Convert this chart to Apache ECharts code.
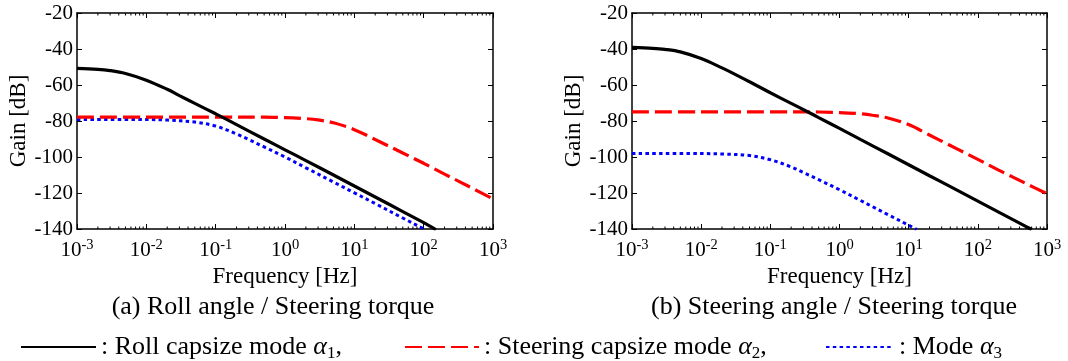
<!DOCTYPE html>
<html>
<head>
<meta charset="utf-8">
<script src="https://cdn.jsdelivr.net/npm/echarts@6/dist/echarts.min.js"></script>
<style>
html, body {margin: 0; padding: 0; background: #fff;}
#chart {width: 1068px; height: 361px;}
</style>
</head>
<body>
<div id="chart"></div>
<script>
// (a) Roll angle / Steering torque  [frequency Hz, gain dB]
const rollMode1 = [[0.001, -50.8], [0.002, -51.3], [0.003, -52.0], [0.005, -53.6], [0.01, -57.3], [0.02, -62.4],
  [0.03, -65.9], [0.05, -70.2], [0.1, -76.0], [0.2, -82.0], [0.5, -90.0], [1, -96.0], [2, -102.0], [5, -110.0],
  [10, -116.1], [20, -122.2], [50, -130.3], [100, -136.5], [150, -140.3]];
const rollMode2 = [[0.001, -77.8], [0.01, -77.8], [0.1, -77.8], [0.5, -77.9], [1, -78.1], [2, -78.7], [3, -79.4],
  [5, -81.0], [10, -84.8], [20, -90.3], [50, -97.8], [100, -103.5], [200, -109.5], [500, -117.3], [1000, -123.3]];
const rollMode3 = [[0.001, -79.1], [0.01, -79.2], [0.02, -79.5], [0.05, -80.6], [0.1, -82.8], [0.2, -87.2],
  [0.3, -90.3], [0.5, -94.4], [1, -100.0], [2, -106.0], [5, -113.9], [10, -119.9], [20, -125.9],
  [50, -133.9], [100, -139.9], [105, -140.3]];

// (b) Steering angle / Steering torque
const steerMode1 = [[0.001, -39.1], [0.002, -39.6], [0.003, -40.2], [0.005, -41.6], [0.01, -45.3], [0.02, -50.5],
  [0.03, -53.8], [0.05, -58.2], [0.1, -64.3], [0.2, -70.2], [0.35, -75.0], [0.5, -78.1], [1, -84.1], [2, -90.2],
  [5, -98.2], [10, -104.3], [20, -110.4], [50, -118.4], [100, -124.5], [200, -130.6], [500, -138.7], [600, -140.3]];
const steerMode2 = [[0.001, -74.9], [0.01, -74.9], [0.1, -74.9], [0.5, -75.0], [1, -75.3], [2, -76.0], [3, -76.8],
  [5, -78.3], [10, -82.0], [20, -87.8], [30, -91.2], [50, -95.5], [100, -101.3], [200, -107.3], [500, -114.8], [1000, -120.4]];
const steerMode3 = [[0.001, -98.0], [0.01, -98.1], [0.02, -98.3], [0.05, -99.2], [0.1, -101.5], [0.2, -105.5],
  [0.3, -108.6], [0.5, -112.6], [1, -118.2], [2, -124.1], [3, -127.6], [5, -132.0], [10, -137.9], [13, -140.2]];

const decades = [0.001, 0.01, 0.1, 1, 10, 100];
const minorSteps = [2, 3, 4, 5, 6, 7, 8, 9];
const gainMin = -140, gainMax = -20, gainStep = 20;
const panelTitles = ['(a) Roll angle / Steering torque', '(b) Steering angle / Steering torque'];

const serif = '"Liberation Serif", "Times New Roman", serif';
const minorTicks = [];
decades.forEach(d => minorSteps.forEach(m => minorTicks.push([d * m, gainMin])));

const grids = [
  {left: 77, top: 13, width: 416, height: 216, outerBoundsMode: 'none'},
  {left: 632, top: 13, width: 415, height: 216, outerBoundsMode: 'none'}
];

const axisLine = {show: true, lineStyle: {color: '#000', width: 1.5}};

function freqAxis(g, pos) {
  const bottom = pos === 'bottom';
  return {
    type: 'log', logBase: 10, gridIndex: g, position: pos,
    min: 0.001, max: 1000, interval: 1, splitNumber: 6,
    name: bottom ? 'Frequency [Hz]' : '', nameLocation: 'middle', nameGap: 28,
    nameTextStyle: {fontFamily: serif, fontSize: 23, color: '#000'},
    axisLine: axisLine,
    axisTick: {show: true, inside: true, length: 5, lineStyle: {color: '#000'}},
    splitLine: {show: false},
    axisLabel: {
      show: bottom, margin: 9, showMinLabel: true, showMaxLabel: true, hideOverlap: false,
      formatter: v => '{b|10}{s|' + Math.round(Math.log10(v)) + '}',
      rich: {
        b: {fontFamily: serif, fontSize: 21, lineHeight: 24, color: '#000'},
        s: {fontFamily: serif, fontSize: 14.5, lineHeight: 14, verticalAlign: 'top', color: '#000'}
      }
    }
  };
}

function gainAxis(g, pos) {
  const left = pos === 'left';
  return {
    type: 'value', gridIndex: g, position: pos,
    min: gainMin, max: gainMax, interval: gainStep,
    name: left ? 'Gain [dB]' : '', nameLocation: 'middle', nameGap: 44,
    nameTextStyle: {fontFamily: serif, fontSize: 23, color: '#000'},
    axisLine: axisLine,
    axisTick: {show: true, inside: true, length: 5, lineStyle: {color: '#000'}},
    splitLine: {show: false},
    axisLabel: {show: left, margin: 4, fontFamily: serif, fontSize: 21, color: '#000'}
  };
}

const styles = {
  m1: {color: '#000', width: 3.2, type: 'solid'},
  m2: {color: '#ff0000', width: 3.2, type: [17, 6]},
  m3: {color: '#0000ff', width: 3, type: [3.5, 3.3]}
};

function curve(name, data, g) {
  return {
    type: 'line', name: name, data: data, xAxisIndex: g * 2, yAxisIndex: g * 2,
    symbol: 'none', smooth: 0.35, clip: true, silent: true,
    lineStyle: styles[name], itemStyle: {color: styles[name].color}
  };
}

function minorTickSeries(g) {
  return {
    type: 'custom', xAxisIndex: g * 2, yAxisIndex: g * 2, data: minorTicks, silent: true, clip: false,
    encode: {x: 0, y: 1},
    renderItem: (params, api) => {
      const f = api.value(0);
      const b = api.coord([f, gainMin]);
      const t = api.coord([f, gainMax]);
      const st = {stroke: '#000', lineWidth: 1};
      return {type: 'group', children: [
        {type: 'line', shape: {x1: b[0], y1: b[1], x2: b[0], y2: b[1] - 2.5}, style: st},
        {type: 'line', shape: {x1: t[0], y1: t[1], x2: t[0], y2: t[1] + 2.5}, style: st}
      ]};
    }
  };
}

const legendText = {
  fontFamily: serif, fontSize: 26, lineHeight: 30, color: '#000',
  rich: {
    i: {fontFamily: serif, fontStyle: 'italic', fontSize: 26, color: '#000'},
    s: {fontFamily: serif, fontSize: 17, lineHeight: 17, verticalAlign: 'bottom', color: '#000'}
  }
};
function legendItem(name, left, width, label) {
  return {
    data: [name], left: left, top: 327, itemWidth: width, itemHeight: 14, itemGap: 0,
    selectedMode: false, formatter: label, textStyle: legendText,
    itemStyle: {opacity: 0}
  };
}

const chart = echarts.init(document.getElementById('chart'), null, {renderer: 'canvas'});
chart.setOption({
  animation: false,
  backgroundColor: '#fff',
  grid: grids,
  xAxis: [freqAxis(0, 'bottom'), freqAxis(0, 'top'), freqAxis(1, 'bottom'), freqAxis(1, 'top')],
  yAxis: [gainAxis(0, 'left'), gainAxis(0, 'right'), gainAxis(1, 'left'), gainAxis(1, 'right')],
  legend: [
    legendItem('m1', 15, 75, ': Roll capsize mode {i|α}{s|1},'),
    legendItem('m2', 399, 74, ': Steering capsize mode {i|α}{s|2},'),
    legendItem('m3', 820, 68, ': Mode {i|α}{s|3}')
  ],
  graphic: panelTitles.map((t, k) => ({
    type: 'text', x: k === 0 ? 273 : 834, y: 307, silent: true,
    style: {text: t, align: 'center', verticalAlign: 'middle', fontFamily: serif, fontSize: 26, fill: '#000'}
  })),
  series: [
    minorTickSeries(0), minorTickSeries(1),
    curve('m3', rollMode3, 0), curve('m2', rollMode2, 0), curve('m1', rollMode1, 0),
    curve('m3', steerMode3, 1), curve('m2', steerMode2, 1), curve('m1', steerMode1, 1)
  ]
});
</script>
</body>
</html>
